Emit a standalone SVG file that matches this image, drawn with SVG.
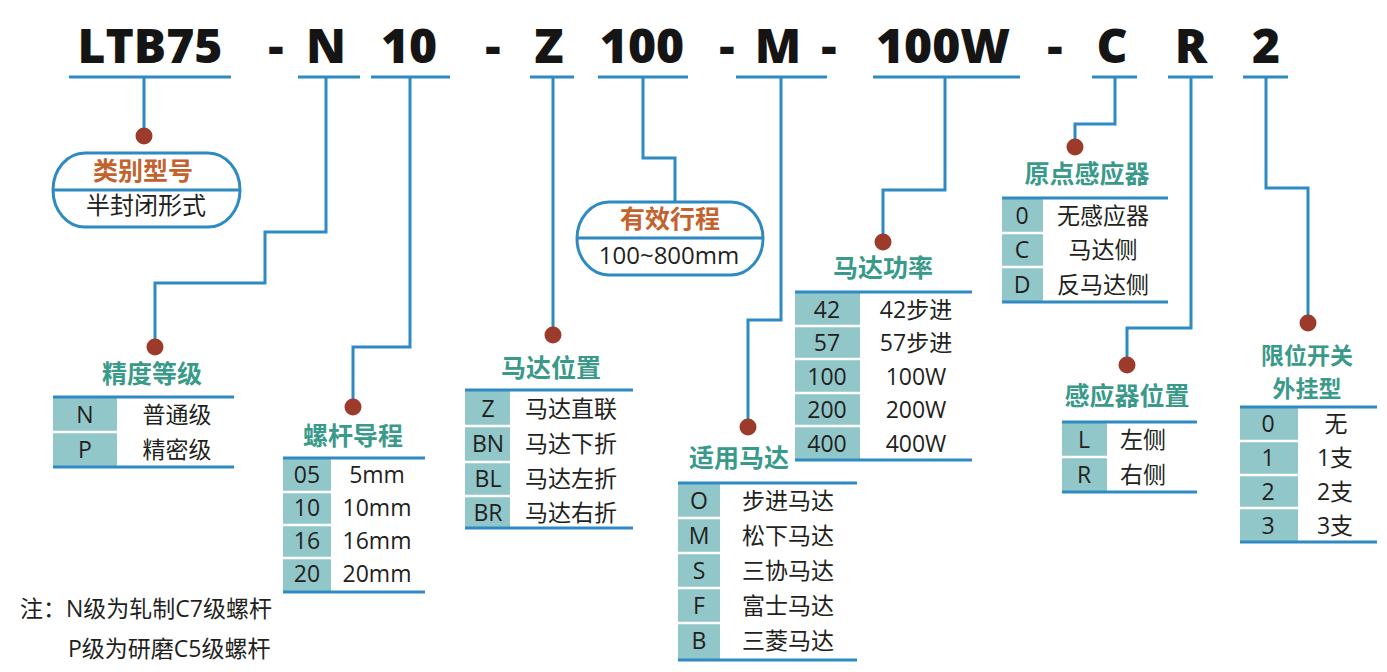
<svg xmlns="http://www.w3.org/2000/svg" width="1387" height="672" viewBox="0 0 1387 672">
<style>
text{font-family:"Open Sans","Noto Sans CJK SC",sans-serif;fill:#231f20}
.code{font-size:48px;font-weight:800;text-anchor:middle;fill:#151515}
.ul{stroke:#2e8ac2;stroke-width:3;fill:none}
.conn{stroke:#2e8ac2;stroke-width:3;fill:none;stroke-linejoin:miter}
.dot{fill:#9c3b2c}
.cap{fill:#fff;stroke:#2e8ac2;stroke-width:3}
.ot{font-size:25px;font-weight:700;fill:#c4622d;text-anchor:middle}
.tt{font-size:25px;font-weight:700;fill:#3a9a8a;text-anchor:middle}
.cell{fill:#92c7ca}
.sep{stroke:#fff;stroke-width:2.5}
.rule{stroke:#2e8ac2;stroke-width:3}
.k{font-size:23px;text-anchor:middle}
.v{font-size:23px;text-anchor:middle}
.note{font-size:23px}
</style>

<g id="code">
<text class="code" x="150" y="63">LTB75</text>
<text class="code" x="276" y="63">-</text>
<text class="code" x="326" y="63">N</text>
<text class="code" x="409" y="63">10</text>
<text class="code" x="493" y="63">-</text>
<text class="code" x="549" y="63">Z</text>
<text class="code" x="642" y="63">100</text>
<text class="code" x="727" y="63">-</text>
<text class="code" x="778" y="63">M</text>
<text class="code" x="829" y="63">-</text>
<text class="code" x="943" y="63">100W</text>
<text class="code" x="1055" y="63">-</text>
<text class="code" x="1112" y="63">C</text>
<text class="code" x="1191" y="63">R</text>
<text class="code" x="1266" y="63">2</text>
<path class="ul" d="M69,77H231M298,77H360M371,77H450M530,77H574M598,77H688M736,77H827M873,77H1020M1092,77H1137M1168,77H1213M1243,77H1288"/>
</g>

<g id="connectors">
<path class="conn" d="M144,77V136"/>
<path class="conn" d="M326,77V232H265V283H155V347"/>
<path class="conn" d="M410,77V347H353V407"/>
<path class="conn" d="M553,77V335"/>
<path class="conn" d="M643,77V158H675V202"/>
<path class="conn" d="M781,77V320H748V427"/>
<path class="conn" d="M945,77V190H883V242"/>
<path class="conn" d="M1115,77V124H1075V147"/>
<path class="conn" d="M1191,77V328H1127V365"/>
<path class="conn" d="M1266,77V188H1308V323"/>
<circle class="dot" cx="144" cy="136" r="8.5"/>
<circle class="dot" cx="155" cy="347" r="8.5"/>
<circle class="dot" cx="353" cy="407" r="8.5"/>
<circle class="dot" cx="553" cy="335" r="8.5"/>
<circle class="dot" cx="748" cy="427" r="8.5"/>
<circle class="dot" cx="883" cy="242" r="8.5"/>
<circle class="dot" cx="1075" cy="147" r="8.5"/>
<circle class="dot" cx="1127" cy="365" r="8.5"/>
<circle class="dot" cx="1308" cy="323" r="8.5"/>
</g>

<g id="type">
<rect class="cap" x="53" y="153" width="187" height="74" rx="32" ry="37"/>
<line class="rule" x1="53" y1="190" x2="240" y2="190"/>
<text class="ot" x="143" y="180">类别型号</text>
<text class="v" x="146" y="214" style="font-size:24px">半封闭形式</text>
</g>

<g id="stroke">
<rect class="cap" x="577" y="202" width="186" height="73" rx="32" ry="36.5"/>
<line class="rule" x1="577" y1="238" x2="763" y2="238"/>
<text class="ot" x="670" y="228">有效行程</text>
<text class="v" x="669" y="264" style="font-size:24px">100~800mm</text>
</g>

<g id="precision">
<text class="tt" x="152" y="383">精度等级</text>
<rect class="cell" x="53" y="397" width="64" height="70"/>
<line class="sep" x1="53" y1="432" x2="117" y2="432"/>
<line class="rule" x1="53" y1="397" x2="234" y2="397"/>
<line class="rule" x1="53" y1="467" x2="234" y2="467"/>
<text class="k" x="85" y="423">N</text><text class="v" x="177" y="423">普通级</text>
<text class="k" x="85" y="458">P</text><text class="v" x="177" y="458">精密级</text>
</g>

<g id="lead">
<text class="tt" x="353" y="445">螺杆导程</text>
<rect class="cell" x="283" y="458" width="48" height="134"/>
<line class="sep" x1="283" y1="492" x2="331" y2="492"/>
<line class="sep" x1="283" y1="525" x2="331" y2="525"/>
<line class="sep" x1="283" y1="558" x2="331" y2="558"/>
<line class="rule" x1="283" y1="458" x2="425" y2="458"/>
<line class="rule" x1="283" y1="592" x2="425" y2="592"/>
<text class="k" x="307" y="483">05</text><text class="v" x="377" y="483">5mm</text>
<text class="k" x="307" y="516">10</text><text class="v" x="377" y="516">10mm</text>
<text class="k" x="307" y="549">16</text><text class="v" x="377" y="549">16mm</text>
<text class="k" x="307" y="582">20</text><text class="v" x="377" y="582">20mm</text>
</g>

<g id="motor-pos">
<text class="tt" x="551" y="377">马达位置</text>
<rect class="cell" x="465" y="390" width="45" height="138"/>
<line class="sep" x1="465" y1="426" x2="510" y2="426"/>
<line class="sep" x1="465" y1="462" x2="510" y2="462"/>
<line class="sep" x1="465" y1="496" x2="510" y2="496"/>
<line class="rule" x1="465" y1="390" x2="633" y2="390"/>
<line class="rule" x1="465" y1="528" x2="633" y2="528"/>
<text class="k" x="488" y="417">Z</text><text class="v" x="571" y="417">马达直联</text>
<text class="k" x="488" y="452">BN</text><text class="v" x="571" y="452">马达下折</text>
<text class="k" x="488" y="487">BL</text><text class="v" x="571" y="487">马达左折</text>
<text class="k" x="488" y="521">BR</text><text class="v" x="571" y="521">马达右折</text>
</g>

<g id="motor">
<text class="tt" x="739" y="467">适用马达</text>
<rect class="cell" x="678" y="483" width="42" height="177"/>
<line class="sep" x1="678" y1="518" x2="720" y2="518"/>
<line class="sep" x1="678" y1="553" x2="720" y2="553"/>
<line class="sep" x1="678" y1="588" x2="720" y2="588"/>
<line class="sep" x1="678" y1="623" x2="720" y2="623"/>
<line class="rule" x1="678" y1="483" x2="857" y2="483"/>
<line class="rule" x1="678" y1="660" x2="857" y2="660"/>
<text class="k" x="699" y="509">O</text><text class="v" x="788" y="509">步进马达</text>
<text class="k" x="699" y="544">M</text><text class="v" x="788" y="544">松下马达</text>
<text class="k" x="699" y="579">S</text><text class="v" x="788" y="579">三协马达</text>
<text class="k" x="699" y="614">F</text><text class="v" x="788" y="614">富士马达</text>
<text class="k" x="699" y="649">B</text><text class="v" x="788" y="649">三菱马达</text>
</g>

<g id="power">
<text class="tt" x="883" y="277">马达功率</text>
<rect class="cell" x="795" y="292" width="65" height="168"/>
<line class="sep" x1="795" y1="326" x2="860" y2="326"/>
<line class="sep" x1="795" y1="359" x2="860" y2="359"/>
<line class="sep" x1="795" y1="393" x2="860" y2="393"/>
<line class="sep" x1="795" y1="426" x2="860" y2="426"/>
<line class="rule" x1="795" y1="292" x2="972" y2="292"/>
<line class="rule" x1="795" y1="460" x2="972" y2="460"/>
<text class="k" x="827" y="318">42</text><text class="v" x="916" y="318">42步进</text>
<text class="k" x="827" y="351">57</text><text class="v" x="916" y="351">57步进</text>
<text class="k" x="827" y="385">100</text><text class="v" x="916" y="385">100W</text>
<text class="k" x="827" y="418">200</text><text class="v" x="916" y="418">200W</text>
<text class="k" x="827" y="452">400</text><text class="v" x="916" y="452">400W</text>
</g>

<g id="origin-sensor">
<text class="tt" x="1087" y="183">原点感应器</text>
<rect class="cell" x="1002" y="198" width="41" height="104"/>
<line class="sep" x1="1002" y1="233" x2="1043" y2="233"/>
<line class="sep" x1="1002" y1="267" x2="1043" y2="267"/>
<line class="rule" x1="1002" y1="198" x2="1168" y2="198"/>
<line class="rule" x1="1002" y1="302" x2="1168" y2="302"/>
<text class="k" x="1022" y="224">0</text><text class="v" x="1103" y="224">无感应器</text>
<text class="k" x="1022" y="258">C</text><text class="v" x="1103" y="258">马达侧</text>
<text class="k" x="1022" y="293">D</text><text class="v" x="1103" y="293">反马达侧</text>
</g>

<g id="sensor-pos">
<text class="tt" x="1127" y="405">感应器位置</text>
<rect class="cell" x="1062" y="422" width="45" height="70"/>
<line class="sep" x1="1062" y1="457" x2="1107" y2="457"/>
<line class="rule" x1="1062" y1="422" x2="1197" y2="422"/>
<line class="rule" x1="1062" y1="492" x2="1197" y2="492"/>
<text class="k" x="1084" y="448">L</text><text class="v" x="1143" y="448">左侧</text>
<text class="k" x="1084" y="483">R</text><text class="v" x="1143" y="483">右侧</text>
</g>

<g id="limit-switch">
<text class="tt" x="1307" y="364" style="font-size:23px">限位开关</text>
<text class="tt" x="1307" y="397" style="font-size:23px">外挂型</text>
<rect class="cell" x="1240" y="407" width="58" height="135"/>
<line class="sep" x1="1240" y1="441" x2="1298" y2="441"/>
<line class="sep" x1="1240" y1="475" x2="1298" y2="475"/>
<line class="sep" x1="1240" y1="508" x2="1298" y2="508"/>
<line class="rule" x1="1240" y1="407" x2="1377" y2="407"/>
<line class="rule" x1="1240" y1="542" x2="1377" y2="542"/>
<text class="k" x="1268" y="432">0</text><text class="v" x="1336" y="432">无</text>
<text class="k" x="1268" y="466">1</text><text class="v" x="1335" y="466">1支</text>
<text class="k" x="1268" y="500">2</text><text class="v" x="1335" y="500">2支</text>
<text class="k" x="1268" y="534">3</text><text class="v" x="1335" y="534">3支</text>
</g>

<g id="note">
<text class="note" x="20" y="617">注：N级为轧制C7级螺杆</text>
<text class="note" x="68" y="657">P级为研磨C5级螺杆</text>
</g>
</svg>
